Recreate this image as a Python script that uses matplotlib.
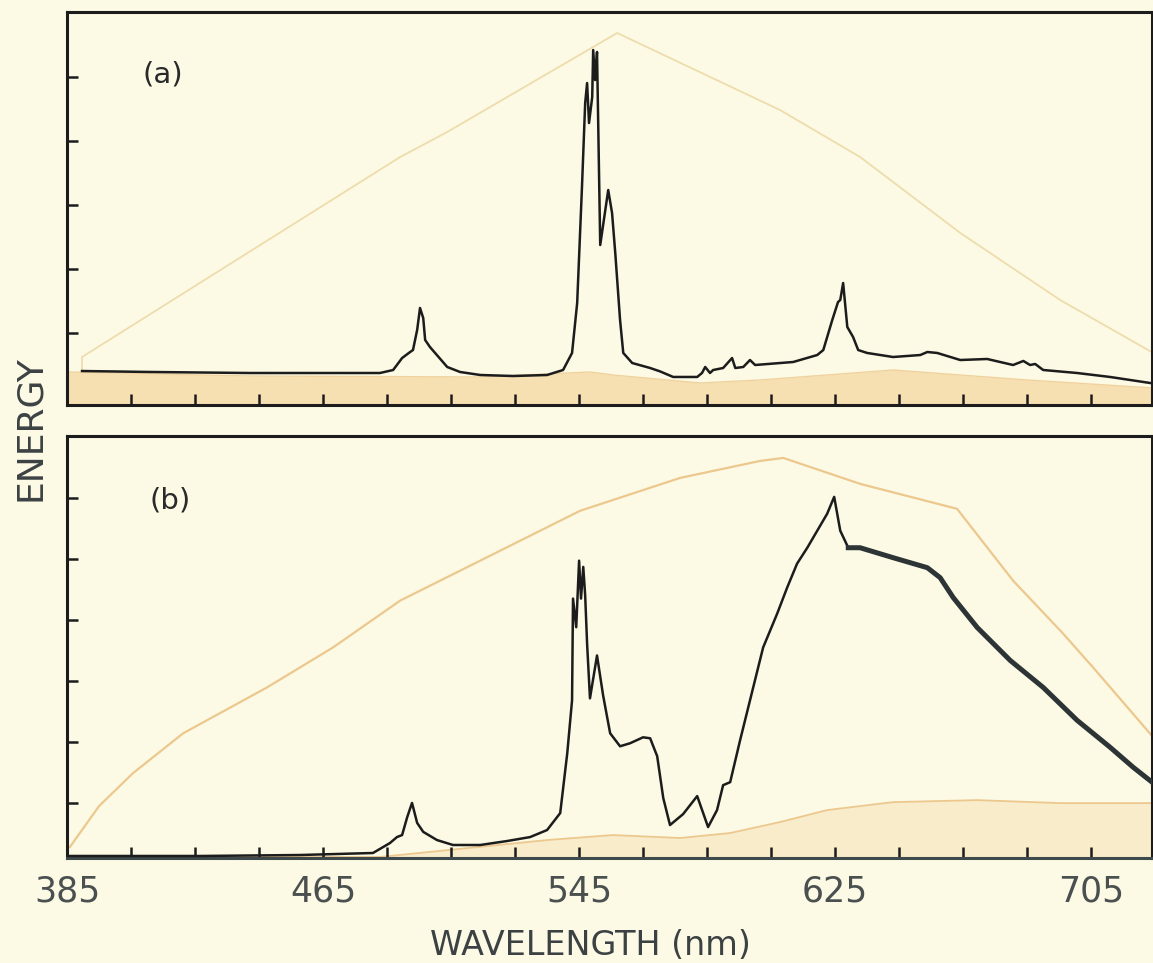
import numpy as np
import matplotlib
matplotlib.use("Agg")
import matplotlib.pyplot as plt

# --- data (wavelength in nm, energy in arbitrary units) ---

# (a) spectrum
wl_a = [389.7, 410.9, 442.2, 482.8, 486.9, 489.7, 492.2, 493.1, 494.4, 495.3, 496.3, 496.9,
        498.4, 503.8, 507.8, 514.1, 524.4, 535.0, 540.0, 542.8, 544.4, 545.9, 546.9, 547.5,
        548.1, 549.1, 549.4, 550.0, 550.6, 551.6, 554.1, 555.3, 556.3, 557.8, 558.8, 561.6,
        567.2, 570.3, 574.4, 581.9, 583.4, 584.4, 585.9, 586.9, 590.0, 592.8, 593.8, 596.3,
        598.4, 600.0, 607.8, 611.9, 619.4, 621.3, 624.1, 625.9, 626.6, 627.5, 628.8, 630.6,
        632.2, 635.0, 643.1, 651.6, 653.8, 656.9, 664.1, 672.5, 680.6, 683.8, 685.9, 687.5,
        690.0, 700.6, 710.9, 723.4]
en_a = [0.406, 0.391, 0.375, 0.375, 0.422, 0.609, 0.703, 0.734, 1.047, 1.391, 1.234, 0.891,
        0.781, 0.469, 0.391, 0.344, 0.328, 0.344, 0.422, 0.688, 1.469, 3.281, 4.594, 4.906,
        4.281, 4.688, 5.422, 4.953, 5.391, 2.375, 3.234, 2.875, 2.250, 1.203, 0.688, 0.531,
        0.453, 0.400, 0.313, 0.313, 0.375, 0.469, 0.375, 0.422, 0.453, 0.609, 0.453, 0.469,
        0.578, 0.500, 0.531, 0.547, 0.656, 0.734, 1.203, 1.484, 1.516, 1.781, 1.094, 0.938,
        0.734, 0.688, 0.625, 0.656, 0.703, 0.688, 0.578, 0.594, 0.500, 0.563, 0.500, 0.516,
        0.422, 0.375, 0.313, 0.219]

# (a) faint orange envelope and band drawn on the paper
env_a_wl = [389.7, 389.7, 489.1, 503.8, 556.9, 607.8, 632.8, 664.1, 695.3, 724.4]
env_a_en = [0.44, 0.625, 3.75, 4.141, 5.688, 4.484, 3.75, 2.563, 1.516, 0.688]
band_a_wl = [385.0, 442.2, 514.1, 548.4, 555.6, 582.8, 601.6, 643.1, 685.0, 724.4]
band_a_en = [0.391, 0.328, 0.313, 0.391, 0.344, 0.219, 0.266, 0.422, 0.266, 0.141]

# (b) spectrum
wl_b = [385.3, 426.6, 457.8, 480.6, 485.9, 488.1, 489.7, 491.3, 492.8, 494.4, 496.3, 500.6,
        505.6, 514.1, 522.5, 529.7, 535.0, 539.1, 541.3, 542.8, 543.1, 544.1, 544.4, 545.0,
        545.6, 546.3, 546.9, 547.5, 548.4, 550.6, 552.5, 554.7, 557.8, 560.9, 565.0, 567.2,
        569.4, 571.3, 573.4, 577.5, 581.9, 585.3, 588.1, 590.0, 592.2, 595.3, 599.4, 602.5,
        606.9, 610.0, 613.1, 616.3, 619.4, 622.5, 624.7, 626.6, 629.1, 632.8, 643.1, 653.8,
        657.8, 661.9, 669.4, 679.7, 690.0, 700.6, 710.9, 718.1, 724.4]
en_b = [0.134, 0.134, 0.150, 0.183, 0.346, 0.444, 0.477, 0.771, 1.003, 0.676, 0.529, 0.395,
        0.314, 0.314, 0.379, 0.444, 0.559, 0.837, 1.817, 2.683, 4.350, 3.881, 4.240, 4.971,
        4.350, 4.869, 4.399, 3.611, 2.716, 3.418, 2.765, 2.144, 1.931, 1.980, 2.078, 2.062,
        1.768, 1.082, 0.641, 0.820, 1.115, 0.608, 0.886, 1.294, 1.343, 2.029, 2.895, 3.549,
        4.105, 4.529, 4.922, 5.183, 5.461, 5.739, 6.016, 5.461, 5.183, 5.183, 5.020, 4.856,
        4.693, 4.366, 3.876, 3.337, 2.895, 2.356, 1.915, 1.588, 1.327]
noisy_from = 629.0   # beyond this the pen trace is broad and noisy

# (b) orange envelopes
env_b_wl = [385.9, 395.0, 405.6, 421.3, 447.5, 468.1, 489.1, 514.1, 545.3, 576.6, 601.6, 608.8,
            632.8, 663.1, 680.6, 696.2, 705.6, 724.4]
env_b_en = [0.281, 0.95, 1.490, 2.144, 2.895, 3.549, 4.317, 4.971, 5.788, 6.327, 6.605, 6.654,
            6.229, 5.820, 4.644, 3.778, 3.222, 2.078]
low_b_wl = [385.9, 482.8, 535.0, 555.6, 576.6, 592.2, 607.8, 622.5, 643.1, 669.4, 695.3, 724.4]
low_b_en = [0.12, 0.118, 0.395, 0.477, 0.428, 0.510, 0.690, 0.886, 1.016, 1.049, 1.0, 1.0]

x_ticks = np.arange(385, 724, 20)

paper = "#fcfae4"
ink = "#1c1c1c"
orange = "#ecc88e"

fig = plt.figure(figsize=(11.53, 9.63), dpi=100, facecolor=paper)
W, H = 1153.0, 963.0
ax_a = fig.add_axes([67 / W, 1 - 405 / H, 1085 / W, 393 / H], facecolor=paper)
ax_b = fig.add_axes([67 / W, 1 - 858 / H, 1085 / W, 422 / H], facecolor=paper)

# panel (a)
ax_a.fill_between(band_a_wl, -0.2, band_a_en, color="#f6dfb0", lw=0, zorder=1)
ax_a.plot(band_a_wl, band_a_en, color="#f0d29e", lw=1.0, zorder=1)
ax_a.plot(env_a_wl, env_a_en, color="#efdcad", lw=1.3, zorder=1)
ax_a.plot(wl_a, en_a, color=ink, lw=1.8, zorder=3)
ax_a.set_ylim(-0.125, 6.016)
ax_a.set_yticks([1, 2, 3, 4, 5])
ax_a.text(0.088, 0.84, "(a)", transform=ax_a.transAxes, fontsize=21,
          color="#2a2a2a", ha="center", va="center")

# panel (b)
ax_b.fill_between(low_b_wl, 0.0, low_b_en, color="#f9eccb", lw=0, zorder=1)
ax_b.plot(low_b_wl, low_b_en, color=orange, lw=1.3, zorder=1)
ax_b.plot(env_b_wl, env_b_en, color=orange, lw=1.6, zorder=1)
ax_b.plot(wl_b, en_b, color=ink, lw=1.8, zorder=3)
wl_b_arr = np.array(wl_b)
en_b_arr = np.array(en_b)
m = wl_b_arr >= noisy_from
ax_b.plot(wl_b_arr[m], en_b_arr[m], color="#2d3436", lw=3.6, zorder=3)
ax_b.set_ylim(0.101, 7.013)
ax_b.set_yticks([1, 2, 3, 4, 5, 6])
ax_b.text(0.095, 0.848, "(b)", transform=ax_b.transAxes, fontsize=21,
          color="#2a2a2a", ha="center", va="center")

for ax in (ax_a, ax_b):
    ax.set_xlim(385, 724)
    ax.set_xticks(x_ticks)
    ax.tick_params(axis="both", direction="in", length=8, width=1.8, color=ink)
    ax.tick_params(axis="y", right=False, labelleft=False)
    ax.tick_params(axis="x", top=False)
    for s in ax.spines.values():
        s.set_linewidth(2.2)
        s.set_color(ink)

ax_a.tick_params(axis="x", labelbottom=False)
ax_b.spines["bottom"].set_color("#3e4a4c")
ax_b.set_xticklabels([str(t) if (t - 385) % 80 == 0 else "" for t in x_ticks])
ax_b.tick_params(axis="x", pad=12, labelsize=25, labelcolor="#4a4f50")

ax_b.set_xlabel("WAVELENGTH (nm)", fontsize=24, color="#3c4244")
ax_b.xaxis.set_label_coords((590 - 67) / 1085, (858 - 945) / 422)
ax_b.xaxis.label.set_verticalalignment("center")

fig.text(30 / W, 1 - 428 / H, "ENERGY", rotation=90, fontsize=26,
         color="#3c4244", ha="center", va="center")

fig.savefig("out.png", dpi=100, facecolor=paper)
